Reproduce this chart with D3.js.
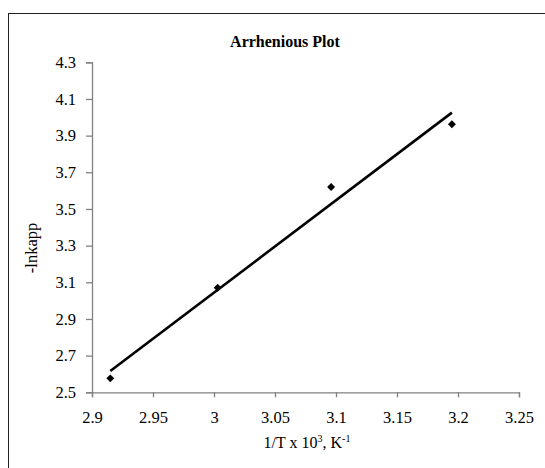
<!DOCTYPE html>
<html><head><meta charset="utf-8">
<script src="https://cdn.jsdelivr.net/npm/d3@7"></script>
<style>body{margin:0;background:#fff}svg{display:block}text{font-family:"Liberation Serif","Times New Roman",serif}</style>
</head><body>
<script>
const xValues = [2.915, 3.003, 3.096, 3.195];
const yValues = [2.576, 3.070, 3.620, 3.962];
const xTicks = [2.9, 2.95, 3, 3.05, 3.1, 3.15, 3.2, 3.25];
const yTicks = [2.5, 2.7, 2.9, 3.1, 3.3, 3.5, 3.7, 3.9, 4.1, 4.3];
const title = "Arrhenious Plot";

const W = 545, H = 468;
const svg = d3.select("body").append("svg").attr("width", W).attr("height", H);
svg.append("rect").attr("x", 8.5).attr("y", 13.5).attr("width", 600).attr("height", 500)
  .attr("fill", "#fff").attr("stroke", "#222").attr("stroke-width", 1);

const x = d3.scaleLinear().domain([2.9, 3.25]).range([92, 519]);
const y = d3.scaleLinear().domain([2.5, 4.3]).range([392.3, 62.3]);

const gx = svg.append("g").attr("transform", `translate(0,${y(2.5)})`)
  .call(d3.axisBottom(x).tickValues(xTicks).tickFormat(d => String(d)).tickSize(5).tickPadding(14));
const gy = svg.append("g").attr("transform", `translate(${x(2.9)},0)`)
  .call(d3.axisLeft(y).tickValues(yTicks).tickFormat(d => d.toFixed(1)).tickSize(6).tickPadding(10));
[gx, gy].forEach(g => {
  g.select(".domain").attr("stroke", "#808080").attr("stroke-width", 1.3);
  g.selectAll(".tick line").attr("stroke", "#808080").attr("stroke-width", 1.3);
  g.selectAll(".tick text").attr("fill", "#000").style("font-size", "16.5px")
    .style("font-family", "'Liberation Serif', serif");
});

// least-squares trendline
const n = xValues.length;
const mx = d3.mean(xValues), my = d3.mean(yValues);
let sxy = 0, sxx = 0;
for (let i = 0; i < n; i++) { sxy += (xValues[i]-mx)*(yValues[i]-my); sxx += (xValues[i]-mx)**2; }
const slope = sxy / sxx, icpt = my - slope * mx;
const x0 = d3.min(xValues), x1 = d3.max(xValues);
svg.append("line").attr("x1", x(x0)).attr("y1", y(icpt + slope*x0))
  .attr("x2", x(x1)).attr("y2", y(icpt + slope*x1))
  .attr("stroke", "#000").attr("stroke-width", 2.6);

const sym = d3.symbol().type(d3.symbolDiamond2).size(40);
svg.append("g").selectAll("path").data(d3.range(n)).join("path")
  .attr("d", sym)
  .attr("transform", i => `translate(${x(xValues[i])},${y(yValues[i])})`)
  .attr("fill", "#000");

svg.append("text").attr("x", 285).attr("y", 47).attr("text-anchor", "middle")
  .style("font-size", "16px").style("font-weight", "bold").text(title);

const xl = svg.append("text").attr("x", 307).attr("y", 448).attr("text-anchor", "middle").style("font-size", "16px");
xl.append("tspan").text("1/T x 10");
xl.append("tspan").attr("dy", -6).style("font-size", "10px").text("3");
xl.append("tspan").attr("dy", 6).text(", K");
xl.append("tspan").attr("dy", -6).style("font-size", "10px").text("-1");

svg.append("text").attr("transform", "translate(37,248) rotate(-90)").attr("text-anchor", "middle")
  .style("font-size", "16.5px").text("-lnkapp");
</script>
</body></html>
